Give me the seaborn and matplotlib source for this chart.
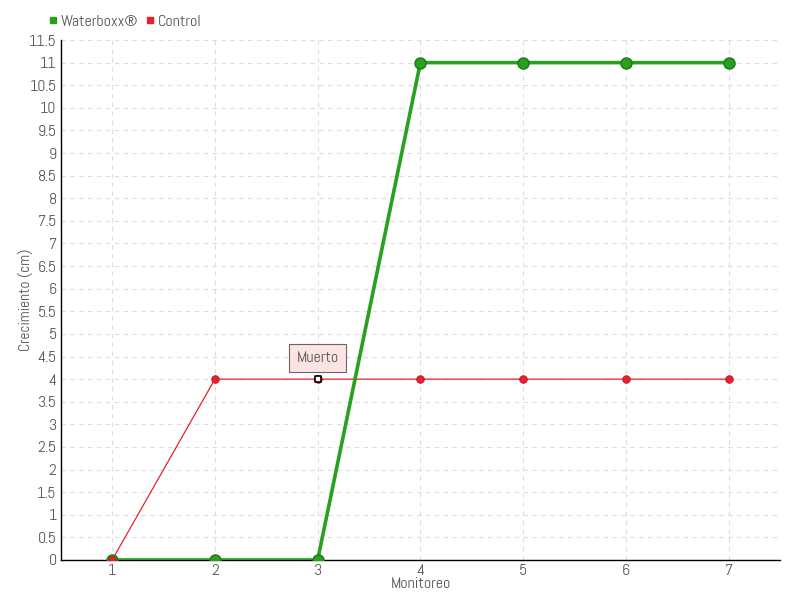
import pandas as pd
import matplotlib
matplotlib.use("Agg")
import matplotlib.pyplot as plt
import seaborn as sns

# data
monitoreo = [1, 2, 3, 4, 5, 6, 7]
waterboxx = [0, 0, 0, 11, 11, 11, 11]
control = [0, 4, 4, 4, 4, 4, 4]
y_ticks = [i * 0.5 for i in range(24)]

green = "#2aa021"
red = "#e8202e"
text_col = "#555555"

sns.set_style("white")
plt.rcParams["font.family"] = ["Abel", "DejaVu Sans"]

df = pd.DataFrame({"Monitoreo": monitoreo, "Waterboxx": waterboxx, "Control": control})

fig = plt.figure(figsize=(8, 6), dpi=100)
ax = fig.add_axes([0.076, 0.0667, 0.899, 0.8666])

# control series
sns.lineplot(data=df, x="Monitoreo", y="Control", ax=ax, color=red, linewidth=0.9,
             zorder=3, legend=False)
# waterboxx series
sns.lineplot(data=df, x="Monitoreo", y="Waterboxx", ax=ax, color=green, linewidth=2.6,
             marker="o", markersize=8, markeredgecolor="#1c7a16", markeredgewidth=1,
             zorder=4, legend=False)
# control markers on top
sns.scatterplot(data=df, x="Monitoreo", y="Control", ax=ax, color=red, s=30,
                edgecolor="#c01020", linewidth=0.6, zorder=5, legend=False)

# highlighted point "Muerto"
ax.scatter([monitoreo[2]], [control[2]], marker="s", s=14, facecolor="white",
           edgecolor="black", linewidth=1.2, zorder=6)
ax.annotate("Muerto", xy=(monitoreo[2], control[2]), xytext=(0, 15),
            textcoords="offset points", ha="center", va="center", fontsize=11.5,
            color=text_col,
            bbox=dict(boxstyle="square,pad=0.45", facecolor="#fde4e4", edgecolor="#666666",
                      linewidth=0.8),
            zorder=7)

ax.set_xlim(0.5, 7.5)
ax.set_ylim(0, 11.5)
ax.set_xticks(monitoreo)
ax.set_yticks(y_ticks)
ax.set_yticklabels([f"{v:g}" for v in y_ticks])
ax.grid(True, linestyle=(0, (4, 4)), color="#dddddd", linewidth=0.8)
ax.set_axisbelow(True)

for s in ["top", "right"]:
    ax.spines[s].set_visible(False)
for s in ["left", "bottom"]:
    ax.spines[s].set_color("black")
    ax.spines[s].set_linewidth(1)

ax.tick_params(axis="y", length=4, direction="inout", width=1, color="black",
               labelsize=11.5, labelcolor=text_col, pad=1)
ax.tick_params(axis="x", length=0, labelsize=11.5, labelcolor=text_col, pad=3)
ax.set_xlabel("Monitoreo", fontsize=11.5, color=text_col, labelpad=-1)
ax.set_ylabel("Crecimiento (cm)", fontsize=11.2, color=text_col, labelpad=-3)

# legend above the axes
h1 = plt.Line2D([], [], marker="s", linestyle="none", color=green, markersize=4.5)
h2 = plt.Line2D([], [], marker="s", linestyle="none", color=red, markersize=4.5)
fig.legend([h1, h2], ["Waterboxx®", "Control"], loc="upper left",
           bbox_to_anchor=(0.043, 1.0), ncol=2, frameon=False, handlelength=0.5,
           handletextpad=0.25, columnspacing=0.5, fontsize=11.5, labelcolor=text_col)

fig.savefig("out.png", dpi=100)
